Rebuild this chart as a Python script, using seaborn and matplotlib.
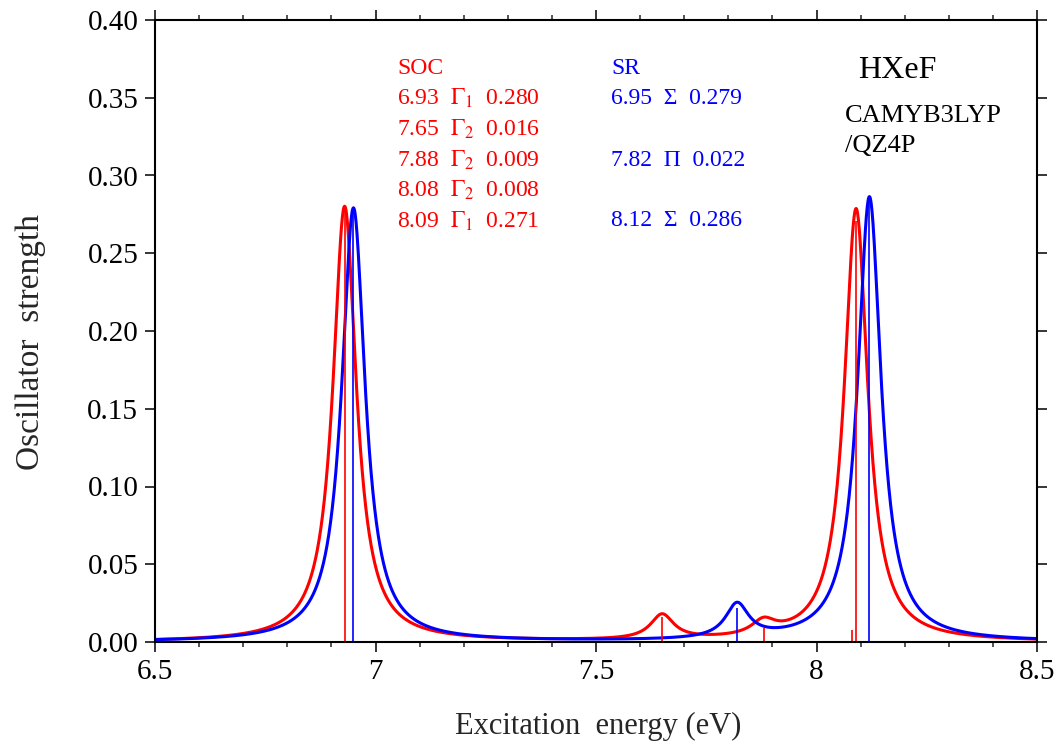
import numpy as np
import pandas as pd
import matplotlib
matplotlib.use("Agg")
import matplotlib.pyplot as plt
from matplotlib.ticker import MultipleLocator, FormatStrFormatter, FuncFormatter
import seaborn as sns

# ---- data (stick spectra) ----
soc_energy = [6.93, 7.65, 7.88, 8.08, 8.09]
soc_strength = [0.280, 0.016, 0.009, 0.008, 0.271]
soc_symm = [r"$\Gamma_1$", r"$\Gamma_2$", r"$\Gamma_2$", r"$\Gamma_2$", r"$\Gamma_1$"]

sr_energy = [6.95, 7.82, 8.12]
sr_strength = [0.279, 0.022, 0.286]
sr_symm = ["Σ", "Π", "Σ"]

hwhm = 0.032  # Lorentzian broadening half-width (eV)
x_range = (6.5, 8.5)

def broaden(energies, strengths, grid):
    y = np.zeros_like(grid)
    for e, f in zip(energies, strengths):
        y += f * hwhm**2 / ((grid - e) ** 2 + hwhm**2)
    return y

grid = np.linspace(x_range[0], x_range[1], 2001)
df = pd.concat([
    pd.DataFrame({"E": grid, "f": broaden(soc_energy, soc_strength, grid), "set": "SOC"}),
    pd.DataFrame({"E": grid, "f": broaden(sr_energy, sr_strength, grid), "set": "SR"}),
])

sns.set_theme(style="ticks")
plt.rcParams["font.family"] = ["Liberation Serif", "DejaVu Serif"]
plt.rcParams["mathtext.fontset"] = "stix"

RED = "#ff0000"
BLUE = "#0000ff"

fig = plt.figure(figsize=(10.61, 7.44), dpi=100)
ax = fig.add_axes([155 / 1061, 1 - 642 / 744, (1037 - 155) / 1061, (642 - 20) / 744])

sns.lineplot(data=df, x="E", y="f", hue="set", palette={"SOC": RED, "SR": BLUE},
             linewidth=2.2, legend=False, ax=ax, sort=False)

ax.vlines(soc_energy, 0, soc_strength, color=RED, linewidth=1.2)
ax.vlines(sr_energy, 0, sr_strength, color=BLUE, linewidth=1.2)

ax.set_xlim(*x_range)
ax.set_ylim(0, 0.40)

ax.xaxis.set_major_locator(MultipleLocator(0.5))
ax.xaxis.set_minor_locator(MultipleLocator(0.1))
ax.xaxis.set_major_formatter(FuncFormatter(lambda v, p: f"{v:g}"))
ax.yaxis.set_major_locator(MultipleLocator(0.05))
ax.yaxis.set_major_formatter(FormatStrFormatter("%.2f"))

for s in ax.spines.values():
    s.set_visible(True)
    s.set_linewidth(1.5)
    s.set_color("black")

ax.tick_params(axis="both", which="major", direction="out", length=7, width=1.1,
               labelsize=21, colors="black", top=True, right=True)
ax.tick_params(axis="x", which="minor", direction="out", length=3.5, width=1.1,
               top=True, bottom=True)
ax.tick_params(axis="x", which="major", pad=5)
ax.tick_params(axis="y", which="major", pad=5)

ax.set_xlabel("Excitation  energy (eV)", fontsize=22)
ax.set_ylabel("Oscillator  strength", fontsize=24)
ax.xaxis.set_label_coords(0.503, -0.113)
ax.yaxis.set_label_coords(-0.124, 0.482)

# ---- annotations ----
def yfrac(py):
    return (642 - py) / 622

def xfrac(px):
    return (px - 155) / 882

fs = 17
ax.text(xfrac(397), yfrac(68), "SOC", color=RED, fontsize=fs, va="center", transform=ax.transAxes)
soc_rows = [98, 129, 160, 190, 221]
for py, e, s, f in zip(soc_rows, soc_energy, soc_symm, soc_strength):
    ax.text(xfrac(397), yfrac(py), f"{e:.2f}  {s}  {f:.3f}", color=RED, fontsize=fs,
            va="center", transform=ax.transAxes)

ax.text(xfrac(611), yfrac(68), "SR", color=BLUE, fontsize=fs, va="center", transform=ax.transAxes)
sr_rows = [98, 160, 221]
for py, e, s, f in zip(sr_rows, sr_energy, sr_symm, sr_strength):
    ax.text(xfrac(611), yfrac(py), f"{e:.2f}  {s}  {f:.3f}", color=BLUE, fontsize=fs,
            va="center", transform=ax.transAxes)

ax.text(xfrac(858), yfrac(70), "HXeF", color="black", fontsize=23, va="center", transform=ax.transAxes)
ax.text(xfrac(845), yfrac(116), "CAMYB3LYP", color="black", fontsize=19, va="center", transform=ax.transAxes)
ax.text(xfrac(845), yfrac(146), "/QZ4P", color="black", fontsize=19, va="center", transform=ax.transAxes)

fig.savefig("out.png", dpi=100)
